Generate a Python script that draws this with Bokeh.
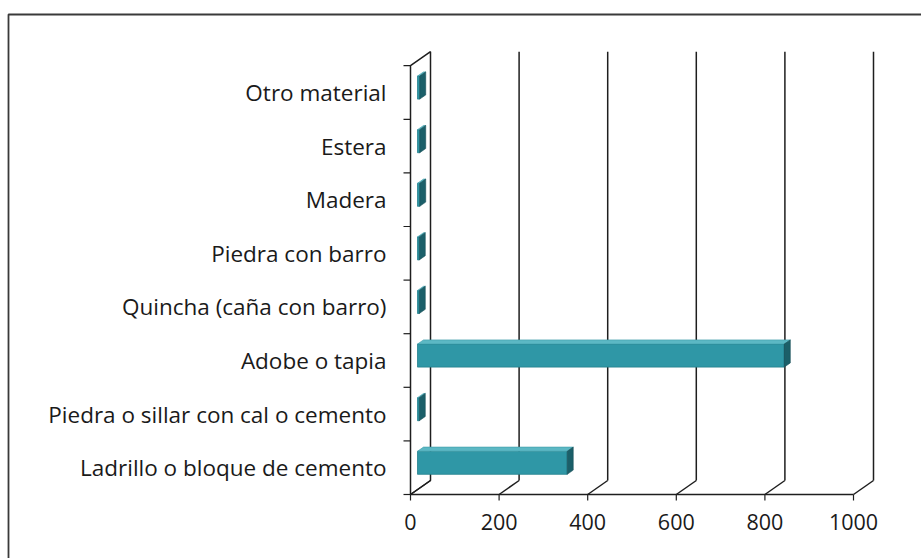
import numpy as np
from bokeh.plotting import figure
from bokeh.models import Range1d
from bokeh.core.properties import value
from bokeh.embed import file_html
from bokeh.resources import INLINE

# ---- data (bottom to top, as drawn) ----
categories = [
    "Ladrillo o bloque de cemento",
    "Piedra o sillar con cal o cemento",
    "Adobe o tapia",
    "Quincha (caña con barro)",
    "Piedra con barro",
    "Madera",
    "Estera",
    "Otro material",
]
counts = [338, 4, 828, 4, 4, 5, 5, 5]
x_ticks = [0, 200, 400, 600, 800, 1000]
x_tick_labels = ["0", "200", "400", "600", "800", "1000"]

# ---- layout (pixel geometry of the chart) ----
W, H = 921, 558
X0_PX, Y0_PX = 410, 494          # screen position of value 0 / bottom of axis
KX = 443 / 1000                  # px per value unit
KY = 53.6                        # px per category slot


def X(px):
    return (px - X0_PX) / KX


def Y(py):
    return (Y0_PX - py) / KY


DX = 20 / KX                     # 3-D depth offset in data units
DY = 14 / KY
N = len(categories)
XMAX = x_ticks[-1]

FONT = value("Open Sans")
LINE = "#1e1e1e"

p = figure(width=W, height=H, output_backend="svg", toolbar_location=None,
           x_range=Range1d(X(0), X(W)), y_range=Range1d(Y(H), Y(0)),
           x_axis_location=None, y_axis_location=None, min_border=0)
p.grid.visible = False
p.outline_line_color = None
p.background_fill_color = "white"
p.border_fill_color = "white"

# outer frame of the picture (left & top edges)
p.line(x=[X(8), X(8), X(W + 10)], y=[Y(H + 10), Y(14), Y(14)],
       line_color="#3a3a3a", line_width=1.8)

# left wall
p.patch(x=[0, 0, DX, DX], y=[0, N, N + DY, DY], fill_color="white",
        line_color=LINE, line_width=1.5)

# back-wall gridlines and floor diagonals
p.multi_line(xs=[[t + DX, t + DX] for t in x_ticks[1:]],
             ys=[[DY, N + DY] for _ in x_ticks[1:]],
             line_color=LINE, line_width=1.5)
p.multi_line(xs=[[t, t + DX] for t in x_ticks],
             ys=[[0, DY] for _ in x_ticks],
             line_color=LINE, line_width=1.5)

# front baseline with ticks
p.line(x=[0, XMAX], y=[0, 0], line_color=LINE, line_width=1.5)
p.multi_line(xs=[[t, t] for t in x_ticks], ys=[[0, -6 / KY] for _ in x_ticks],
             line_color=LINE, line_width=1.2)
# category boundary ticks
p.multi_line(xs=[[0, -7 / KX] for _ in range(N + 1)],
             ys=[[i, i] for i in range(N + 1)],
             line_color=LINE, line_width=1.2)

# ---- 3-D bars ----
v = np.array(counts, dtype=float)
ctr = np.arange(N) + 0.5
h = 0.43
f1, f2 = 0.35, 0.65
x0 = np.full(N, f1 * DX)
x1 = v + f1 * DX
yb = ctr - h / 2 + f1 * DY
yt = ctr + h / 2 + f1 * DY
ddx = (f2 - f1) * DX
ddy = (f2 - f1) * DY

p.quad(left=x0, right=x1, bottom=yb, top=yt, fill_color="#2f97a6",
       line_color="#23808d", line_width=0.8)
p.patches(xs=[[a, b, b + ddx, a + ddx] for a, b in zip(x0, x1)],
          ys=[[t, t, t + ddy, t + ddy] for t in yt],
          fill_color="#5cb8c4", line_color="#3a9aa7", line_width=0.6)
p.patches(xs=[[b, b, b + ddx, b + ddx] for b in x1],
          ys=[[lo, hi, hi + ddy, lo + ddy] for lo, hi in zip(yb, yt)],
          fill_color="#1b5f69", line_color="#174f57", line_width=0.6)

# ---- texts ----
p.text(x=[X(386)] * N, y=list(ctr), text=categories, text_font=FONT,
       text_font_size=value("22.5px"), text_align="right", text_baseline="middle",
       text_color="#1a1a1a")
p.text(x=x_ticks, y=[Y(521)] * len(x_ticks), text=x_tick_labels, text_font=FONT,
       text_font_size=value("21.5px"), text_align="center", text_baseline="middle",
       text_color="#1a1a1a")

open("out.html", "w").write(file_html(p, INLINE))
